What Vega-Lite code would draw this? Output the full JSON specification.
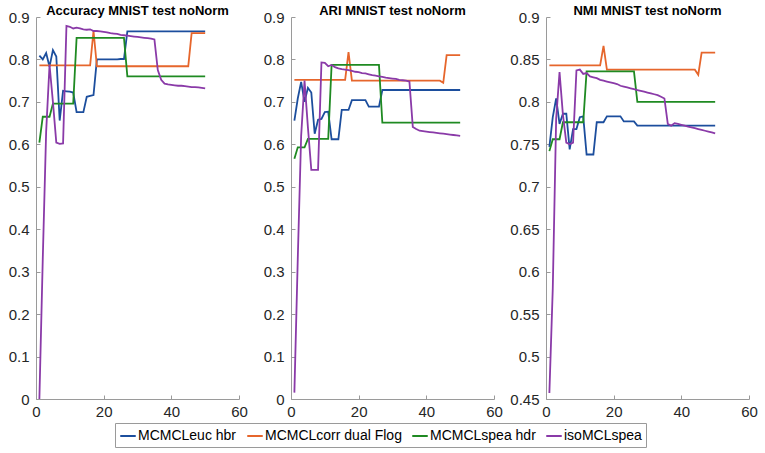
{
"$schema": "https://vega.github.io/schema/vega-lite/v6.json",
"padding": {"left": 8, "top": 5, "right": 4, "bottom": 4},
"background": "white",
"bounds": "flush",
"spacing": 52,
"config": {
  "font": "Liberation Sans",
  "view": {"stroke": null},
  "axis": {"grid": false, "domainColor": "#9a9a9a", "tickColor": "#9a9a9a", "labelColor": "#262626", "labelFontSize": 15, "labelFont": "Liberation Sans", "tickSize": -4, "labelFlush": false, "labelOverlap": false},
  "axisX": {"labelPadding": 9},
  "axisY": {"labelPadding": 11},
  "title": {"fontSize": 13, "fontWeight": "bold", "font": "Liberation Sans", "color": "#000000", "anchor": "middle", "frame": "group", "offset": -8},
  "legend": {"symbolType": "stroke", "symbolSize": 240, "symbolStrokeWidth": 2, "labelFontSize": 14, "labelFont": "Liberation Sans", "labelColor": "#000000", "strokeColor": "#9a9a9a", "fillColor": "#ffffff", "padding": 4, "columnPadding": 6, "labelOffset": 1, "title": null}
},
"datasets": {
"acc": [
{"x":1,"MCMCLeuc hbr":0.809,"MCMCLcorr dual Flog":0.786,"MCMCLspea hdr":0.604,"isoMCLspea":0.0},
{"x":2,"MCMCLeuc hbr":0.800,"MCMCLcorr dual Flog":0.786,"MCMCLspea hdr":0.665,"isoMCLspea":0.33},
{"x":3,"MCMCLeuc hbr":0.815,"MCMCLcorr dual Flog":0.786,"MCMCLspea hdr":0.665,"isoMCLspea":0.63},
{"x":4,"MCMCLeuc hbr":0.783,"MCMCLcorr dual Flog":0.786,"MCMCLspea hdr":0.665,"isoMCLspea":0.787},
{"x":5,"MCMCLeuc hbr":0.822,"MCMCLcorr dual Flog":0.786,"MCMCLspea hdr":0.696,"isoMCLspea":0.70},
{"x":6,"MCMCLeuc hbr":0.807,"MCMCLcorr dual Flog":0.786,"MCMCLspea hdr":0.696,"isoMCLspea":0.604},
{"x":7,"MCMCLeuc hbr":0.656,"MCMCLcorr dual Flog":0.786,"MCMCLspea hdr":0.696,"isoMCLspea":0.601},
{"x":8,"MCMCLeuc hbr":0.726,"MCMCLcorr dual Flog":0.786,"MCMCLspea hdr":0.696,"isoMCLspea":0.602},
{"x":9,"MCMCLeuc hbr":0.725,"MCMCLcorr dual Flog":0.786,"MCMCLspea hdr":0.696,"isoMCLspea":0.879},
{"x":10,"MCMCLeuc hbr":0.724,"MCMCLcorr dual Flog":0.786,"MCMCLspea hdr":0.696,"isoMCLspea":0.877},
{"x":11,"MCMCLeuc hbr":0.722,"MCMCLcorr dual Flog":0.786,"MCMCLspea hdr":0.696,"isoMCLspea":0.873},
{"x":12,"MCMCLeuc hbr":0.676,"MCMCLcorr dual Flog":0.786,"MCMCLspea hdr":0.851,"isoMCLspea":0.875},
{"x":13,"MCMCLeuc hbr":0.676,"MCMCLcorr dual Flog":0.786,"MCMCLspea hdr":0.851,"isoMCLspea":0.873},
{"x":14,"MCMCLeuc hbr":0.676,"MCMCLcorr dual Flog":0.786,"MCMCLspea hdr":0.851,"isoMCLspea":0.871},
{"x":15,"MCMCLeuc hbr":0.712,"MCMCLcorr dual Flog":0.786,"MCMCLspea hdr":0.851,"isoMCLspea":0.870},
{"x":16,"MCMCLeuc hbr":0.714,"MCMCLcorr dual Flog":0.786,"MCMCLspea hdr":0.851,"isoMCLspea":0.871},
{"x":17,"MCMCLeuc hbr":0.716,"MCMCLcorr dual Flog":0.867,"MCMCLspea hdr":0.851,"isoMCLspea":0.867},
{"x":18,"MCMCLeuc hbr":0.800,"MCMCLcorr dual Flog":0.784,"MCMCLspea hdr":0.851,"isoMCLspea":0.867},
{"x":19,"MCMCLeuc hbr":0.800,"MCMCLcorr dual Flog":0.784,"MCMCLspea hdr":0.851,"isoMCLspea":0.866},
{"x":20,"MCMCLeuc hbr":0.800,"MCMCLcorr dual Flog":0.784,"MCMCLspea hdr":0.851,"isoMCLspea":0.865},
{"x":21,"MCMCLeuc hbr":0.800,"MCMCLcorr dual Flog":0.784,"MCMCLspea hdr":0.851,"isoMCLspea":0.864},
{"x":22,"MCMCLeuc hbr":0.800,"MCMCLcorr dual Flog":0.784,"MCMCLspea hdr":0.851,"isoMCLspea":0.862},
{"x":23,"MCMCLeuc hbr":0.800,"MCMCLcorr dual Flog":0.784,"MCMCLspea hdr":0.851,"isoMCLspea":0.861},
{"x":24,"MCMCLeuc hbr":0.800,"MCMCLcorr dual Flog":0.784,"MCMCLspea hdr":0.851,"isoMCLspea":0.860},
{"x":25,"MCMCLeuc hbr":0.801,"MCMCLcorr dual Flog":0.784,"MCMCLspea hdr":0.851,"isoMCLspea":0.858},
{"x":26,"MCMCLeuc hbr":0.801,"MCMCLcorr dual Flog":0.784,"MCMCLspea hdr":0.851,"isoMCLspea":0.857},
{"x":27,"MCMCLeuc hbr":0.866,"MCMCLcorr dual Flog":0.784,"MCMCLspea hdr":0.760,"isoMCLspea":0.856},
{"x":28,"MCMCLeuc hbr":0.866,"MCMCLcorr dual Flog":0.784,"MCMCLspea hdr":0.760,"isoMCLspea":0.855},
{"x":29,"MCMCLeuc hbr":0.866,"MCMCLcorr dual Flog":0.784,"MCMCLspea hdr":0.760,"isoMCLspea":0.854},
{"x":30,"MCMCLeuc hbr":0.866,"MCMCLcorr dual Flog":0.784,"MCMCLspea hdr":0.760,"isoMCLspea":0.853},
{"x":31,"MCMCLeuc hbr":0.866,"MCMCLcorr dual Flog":0.784,"MCMCLspea hdr":0.760,"isoMCLspea":0.852},
{"x":32,"MCMCLeuc hbr":0.866,"MCMCLcorr dual Flog":0.784,"MCMCLspea hdr":0.760,"isoMCLspea":0.851},
{"x":33,"MCMCLeuc hbr":0.866,"MCMCLcorr dual Flog":0.784,"MCMCLspea hdr":0.760,"isoMCLspea":0.850},
{"x":34,"MCMCLeuc hbr":0.866,"MCMCLcorr dual Flog":0.784,"MCMCLspea hdr":0.760,"isoMCLspea":0.849},
{"x":35,"MCMCLeuc hbr":0.866,"MCMCLcorr dual Flog":0.784,"MCMCLspea hdr":0.760,"isoMCLspea":0.847},
{"x":36,"MCMCLeuc hbr":0.866,"MCMCLcorr dual Flog":0.784,"MCMCLspea hdr":0.760,"isoMCLspea":0.775},
{"x":37,"MCMCLeuc hbr":0.866,"MCMCLcorr dual Flog":0.784,"MCMCLspea hdr":0.760,"isoMCLspea":0.752},
{"x":38,"MCMCLeuc hbr":0.866,"MCMCLcorr dual Flog":0.784,"MCMCLspea hdr":0.760,"isoMCLspea":0.743},
{"x":39,"MCMCLeuc hbr":0.866,"MCMCLcorr dual Flog":0.784,"MCMCLspea hdr":0.760,"isoMCLspea":0.741},
{"x":40,"MCMCLeuc hbr":0.866,"MCMCLcorr dual Flog":0.784,"MCMCLspea hdr":0.760,"isoMCLspea":0.740},
{"x":41,"MCMCLeuc hbr":0.866,"MCMCLcorr dual Flog":0.784,"MCMCLspea hdr":0.760,"isoMCLspea":0.739},
{"x":42,"MCMCLeuc hbr":0.866,"MCMCLcorr dual Flog":0.784,"MCMCLspea hdr":0.760,"isoMCLspea":0.738},
{"x":43,"MCMCLeuc hbr":0.866,"MCMCLcorr dual Flog":0.784,"MCMCLspea hdr":0.760,"isoMCLspea":0.738},
{"x":44,"MCMCLeuc hbr":0.866,"MCMCLcorr dual Flog":0.784,"MCMCLspea hdr":0.760,"isoMCLspea":0.737},
{"x":45,"MCMCLeuc hbr":0.866,"MCMCLcorr dual Flog":0.784,"MCMCLspea hdr":0.760,"isoMCLspea":0.736},
{"x":46,"MCMCLeuc hbr":0.866,"MCMCLcorr dual Flog":0.862,"MCMCLspea hdr":0.760,"isoMCLspea":0.735},
{"x":47,"MCMCLeuc hbr":0.866,"MCMCLcorr dual Flog":0.862,"MCMCLspea hdr":0.760,"isoMCLspea":0.735},
{"x":48,"MCMCLeuc hbr":0.866,"MCMCLcorr dual Flog":0.862,"MCMCLspea hdr":0.760,"isoMCLspea":0.734},
{"x":49,"MCMCLeuc hbr":0.866,"MCMCLcorr dual Flog":0.862,"MCMCLspea hdr":0.760,"isoMCLspea":0.733},
{"x":50,"MCMCLeuc hbr":0.866,"MCMCLcorr dual Flog":0.862,"MCMCLspea hdr":0.760,"isoMCLspea":0.732}
],
"ari": [
{"x":1,"MCMCLeuc hbr":0.656,"MCMCLcorr dual Flog":0.752,"MCMCLspea hdr":0.566,"isoMCLspea":0.015},
{"x":2,"MCMCLeuc hbr":0.708,"MCMCLcorr dual Flog":0.752,"MCMCLspea hdr":0.593,"isoMCLspea":0.33},
{"x":3,"MCMCLeuc hbr":0.747,"MCMCLcorr dual Flog":0.752,"MCMCLspea hdr":0.593,"isoMCLspea":0.62},
{"x":4,"MCMCLeuc hbr":0.700,"MCMCLcorr dual Flog":0.752,"MCMCLspea hdr":0.593,"isoMCLspea":0.75},
{"x":5,"MCMCLeuc hbr":0.733,"MCMCLcorr dual Flog":0.752,"MCMCLspea hdr":0.613,"isoMCLspea":0.64},
{"x":6,"MCMCLeuc hbr":0.722,"MCMCLcorr dual Flog":0.752,"MCMCLspea hdr":0.613,"isoMCLspea":0.54},
{"x":7,"MCMCLeuc hbr":0.625,"MCMCLcorr dual Flog":0.752,"MCMCLspea hdr":0.613,"isoMCLspea":0.54},
{"x":8,"MCMCLeuc hbr":0.658,"MCMCLcorr dual Flog":0.752,"MCMCLspea hdr":0.613,"isoMCLspea":0.54},
{"x":9,"MCMCLeuc hbr":0.660,"MCMCLcorr dual Flog":0.752,"MCMCLspea hdr":0.613,"isoMCLspea":0.793},
{"x":10,"MCMCLeuc hbr":0.676,"MCMCLcorr dual Flog":0.752,"MCMCLspea hdr":0.613,"isoMCLspea":0.792},
{"x":11,"MCMCLeuc hbr":0.677,"MCMCLcorr dual Flog":0.752,"MCMCLspea hdr":0.613,"isoMCLspea":0.784},
{"x":12,"MCMCLeuc hbr":0.612,"MCMCLcorr dual Flog":0.752,"MCMCLspea hdr":0.787,"isoMCLspea":0.787},
{"x":13,"MCMCLeuc hbr":0.612,"MCMCLcorr dual Flog":0.752,"MCMCLspea hdr":0.787,"isoMCLspea":0.782},
{"x":14,"MCMCLeuc hbr":0.612,"MCMCLcorr dual Flog":0.752,"MCMCLspea hdr":0.787,"isoMCLspea":0.779},
{"x":15,"MCMCLeuc hbr":0.681,"MCMCLcorr dual Flog":0.752,"MCMCLspea hdr":0.787,"isoMCLspea":0.777},
{"x":16,"MCMCLeuc hbr":0.681,"MCMCLcorr dual Flog":0.752,"MCMCLspea hdr":0.787,"isoMCLspea":0.776},
{"x":17,"MCMCLeuc hbr":0.681,"MCMCLcorr dual Flog":0.817,"MCMCLspea hdr":0.787,"isoMCLspea":0.775},
{"x":18,"MCMCLeuc hbr":0.704,"MCMCLcorr dual Flog":0.750,"MCMCLspea hdr":0.787,"isoMCLspea":0.773},
{"x":19,"MCMCLeuc hbr":0.704,"MCMCLcorr dual Flog":0.750,"MCMCLspea hdr":0.787,"isoMCLspea":0.771},
{"x":20,"MCMCLeuc hbr":0.704,"MCMCLcorr dual Flog":0.750,"MCMCLspea hdr":0.787,"isoMCLspea":0.770},
{"x":21,"MCMCLeuc hbr":0.704,"MCMCLcorr dual Flog":0.750,"MCMCLspea hdr":0.787,"isoMCLspea":0.768},
{"x":22,"MCMCLeuc hbr":0.704,"MCMCLcorr dual Flog":0.750,"MCMCLspea hdr":0.787,"isoMCLspea":0.767},
{"x":23,"MCMCLeuc hbr":0.689,"MCMCLcorr dual Flog":0.750,"MCMCLspea hdr":0.787,"isoMCLspea":0.765},
{"x":24,"MCMCLeuc hbr":0.689,"MCMCLcorr dual Flog":0.750,"MCMCLspea hdr":0.787,"isoMCLspea":0.763},
{"x":25,"MCMCLeuc hbr":0.689,"MCMCLcorr dual Flog":0.750,"MCMCLspea hdr":0.787,"isoMCLspea":0.762},
{"x":26,"MCMCLeuc hbr":0.689,"MCMCLcorr dual Flog":0.750,"MCMCLspea hdr":0.787,"isoMCLspea":0.760},
{"x":27,"MCMCLeuc hbr":0.728,"MCMCLcorr dual Flog":0.750,"MCMCLspea hdr":0.651,"isoMCLspea":0.759},
{"x":28,"MCMCLeuc hbr":0.728,"MCMCLcorr dual Flog":0.750,"MCMCLspea hdr":0.651,"isoMCLspea":0.757},
{"x":29,"MCMCLeuc hbr":0.728,"MCMCLcorr dual Flog":0.750,"MCMCLspea hdr":0.651,"isoMCLspea":0.756},
{"x":30,"MCMCLeuc hbr":0.728,"MCMCLcorr dual Flog":0.750,"MCMCLspea hdr":0.651,"isoMCLspea":0.755},
{"x":31,"MCMCLeuc hbr":0.728,"MCMCLcorr dual Flog":0.750,"MCMCLspea hdr":0.651,"isoMCLspea":0.754},
{"x":32,"MCMCLeuc hbr":0.728,"MCMCLcorr dual Flog":0.750,"MCMCLspea hdr":0.651,"isoMCLspea":0.752},
{"x":33,"MCMCLeuc hbr":0.728,"MCMCLcorr dual Flog":0.750,"MCMCLspea hdr":0.651,"isoMCLspea":0.751},
{"x":34,"MCMCLeuc hbr":0.728,"MCMCLcorr dual Flog":0.750,"MCMCLspea hdr":0.651,"isoMCLspea":0.750},
{"x":35,"MCMCLeuc hbr":0.728,"MCMCLcorr dual Flog":0.750,"MCMCLspea hdr":0.651,"isoMCLspea":0.748},
{"x":36,"MCMCLeuc hbr":0.728,"MCMCLcorr dual Flog":0.750,"MCMCLspea hdr":0.651,"isoMCLspea":0.641},
{"x":37,"MCMCLeuc hbr":0.728,"MCMCLcorr dual Flog":0.750,"MCMCLspea hdr":0.651,"isoMCLspea":0.636},
{"x":38,"MCMCLeuc hbr":0.728,"MCMCLcorr dual Flog":0.750,"MCMCLspea hdr":0.651,"isoMCLspea":0.632},
{"x":39,"MCMCLeuc hbr":0.728,"MCMCLcorr dual Flog":0.750,"MCMCLspea hdr":0.651,"isoMCLspea":0.631},
{"x":40,"MCMCLeuc hbr":0.728,"MCMCLcorr dual Flog":0.750,"MCMCLspea hdr":0.651,"isoMCLspea":0.630},
{"x":41,"MCMCLeuc hbr":0.728,"MCMCLcorr dual Flog":0.750,"MCMCLspea hdr":0.651,"isoMCLspea":0.629},
{"x":42,"MCMCLeuc hbr":0.728,"MCMCLcorr dual Flog":0.750,"MCMCLspea hdr":0.651,"isoMCLspea":0.628},
{"x":43,"MCMCLeuc hbr":0.728,"MCMCLcorr dual Flog":0.750,"MCMCLspea hdr":0.651,"isoMCLspea":0.627},
{"x":44,"MCMCLeuc hbr":0.728,"MCMCLcorr dual Flog":0.750,"MCMCLspea hdr":0.651,"isoMCLspea":0.626},
{"x":45,"MCMCLeuc hbr":0.728,"MCMCLcorr dual Flog":0.745,"MCMCLspea hdr":0.651,"isoMCLspea":0.625},
{"x":46,"MCMCLeuc hbr":0.728,"MCMCLcorr dual Flog":0.810,"MCMCLspea hdr":0.651,"isoMCLspea":0.624},
{"x":47,"MCMCLeuc hbr":0.728,"MCMCLcorr dual Flog":0.810,"MCMCLspea hdr":0.651,"isoMCLspea":0.623},
{"x":48,"MCMCLeuc hbr":0.728,"MCMCLcorr dual Flog":0.810,"MCMCLspea hdr":0.651,"isoMCLspea":0.622},
{"x":49,"MCMCLeuc hbr":0.728,"MCMCLcorr dual Flog":0.810,"MCMCLspea hdr":0.651,"isoMCLspea":0.621},
{"x":50,"MCMCLeuc hbr":0.728,"MCMCLcorr dual Flog":0.810,"MCMCLspea hdr":0.651,"isoMCLspea":0.620}
],
"nmi": [
{"x":1,"MCMCLeuc hbr":0.747,"MCMCLcorr dual Flog":0.843,"MCMCLspea hdr":0.742,"isoMCLspea":0.457},
{"x":2,"MCMCLeuc hbr":0.782,"MCMCLcorr dual Flog":0.843,"MCMCLspea hdr":0.756,"isoMCLspea":0.58},
{"x":3,"MCMCLeuc hbr":0.804,"MCMCLcorr dual Flog":0.843,"MCMCLspea hdr":0.756,"isoMCLspea":0.78},
{"x":4,"MCMCLeuc hbr":0.774,"MCMCLcorr dual Flog":0.843,"MCMCLspea hdr":0.756,"isoMCLspea":0.835},
{"x":5,"MCMCLeuc hbr":0.786,"MCMCLcorr dual Flog":0.843,"MCMCLspea hdr":0.776,"isoMCLspea":0.785},
{"x":6,"MCMCLeuc hbr":0.786,"MCMCLcorr dual Flog":0.843,"MCMCLspea hdr":0.776,"isoMCLspea":0.752},
{"x":7,"MCMCLeuc hbr":0.744,"MCMCLcorr dual Flog":0.843,"MCMCLspea hdr":0.776,"isoMCLspea":0.750},
{"x":8,"MCMCLeuc hbr":0.768,"MCMCLcorr dual Flog":0.843,"MCMCLspea hdr":0.776,"isoMCLspea":0.752},
{"x":9,"MCMCLeuc hbr":0.768,"MCMCLcorr dual Flog":0.843,"MCMCLspea hdr":0.776,"isoMCLspea":0.837},
{"x":10,"MCMCLeuc hbr":0.782,"MCMCLcorr dual Flog":0.843,"MCMCLspea hdr":0.776,"isoMCLspea":0.838},
{"x":11,"MCMCLeuc hbr":0.783,"MCMCLcorr dual Flog":0.843,"MCMCLspea hdr":0.776,"isoMCLspea":0.833},
{"x":12,"MCMCLeuc hbr":0.738,"MCMCLcorr dual Flog":0.843,"MCMCLspea hdr":0.836,"isoMCLspea":0.834},
{"x":13,"MCMCLeuc hbr":0.738,"MCMCLcorr dual Flog":0.843,"MCMCLspea hdr":0.836,"isoMCLspea":0.830},
{"x":14,"MCMCLeuc hbr":0.738,"MCMCLcorr dual Flog":0.843,"MCMCLspea hdr":0.836,"isoMCLspea":0.829},
{"x":15,"MCMCLeuc hbr":0.776,"MCMCLcorr dual Flog":0.843,"MCMCLspea hdr":0.836,"isoMCLspea":0.828},
{"x":16,"MCMCLeuc hbr":0.776,"MCMCLcorr dual Flog":0.843,"MCMCLspea hdr":0.836,"isoMCLspea":0.826},
{"x":17,"MCMCLeuc hbr":0.776,"MCMCLcorr dual Flog":0.866,"MCMCLspea hdr":0.836,"isoMCLspea":0.825},
{"x":18,"MCMCLeuc hbr":0.783,"MCMCLcorr dual Flog":0.838,"MCMCLspea hdr":0.836,"isoMCLspea":0.824},
{"x":19,"MCMCLeuc hbr":0.783,"MCMCLcorr dual Flog":0.838,"MCMCLspea hdr":0.836,"isoMCLspea":0.823},
{"x":20,"MCMCLeuc hbr":0.783,"MCMCLcorr dual Flog":0.838,"MCMCLspea hdr":0.836,"isoMCLspea":0.822},
{"x":21,"MCMCLeuc hbr":0.783,"MCMCLcorr dual Flog":0.838,"MCMCLspea hdr":0.836,"isoMCLspea":0.821},
{"x":22,"MCMCLeuc hbr":0.783,"MCMCLcorr dual Flog":0.838,"MCMCLspea hdr":0.836,"isoMCLspea":0.819},
{"x":23,"MCMCLeuc hbr":0.777,"MCMCLcorr dual Flog":0.838,"MCMCLspea hdr":0.836,"isoMCLspea":0.818},
{"x":24,"MCMCLeuc hbr":0.777,"MCMCLcorr dual Flog":0.838,"MCMCLspea hdr":0.836,"isoMCLspea":0.817},
{"x":25,"MCMCLeuc hbr":0.777,"MCMCLcorr dual Flog":0.838,"MCMCLspea hdr":0.836,"isoMCLspea":0.816},
{"x":26,"MCMCLeuc hbr":0.777,"MCMCLcorr dual Flog":0.838,"MCMCLspea hdr":0.836,"isoMCLspea":0.815},
{"x":27,"MCMCLeuc hbr":0.772,"MCMCLcorr dual Flog":0.838,"MCMCLspea hdr":0.800,"isoMCLspea":0.814},
{"x":28,"MCMCLeuc hbr":0.772,"MCMCLcorr dual Flog":0.838,"MCMCLspea hdr":0.800,"isoMCLspea":0.813},
{"x":29,"MCMCLeuc hbr":0.772,"MCMCLcorr dual Flog":0.838,"MCMCLspea hdr":0.800,"isoMCLspea":0.812},
{"x":30,"MCMCLeuc hbr":0.772,"MCMCLcorr dual Flog":0.838,"MCMCLspea hdr":0.800,"isoMCLspea":0.811},
{"x":31,"MCMCLeuc hbr":0.772,"MCMCLcorr dual Flog":0.838,"MCMCLspea hdr":0.800,"isoMCLspea":0.810},
{"x":32,"MCMCLeuc hbr":0.772,"MCMCLcorr dual Flog":0.838,"MCMCLspea hdr":0.800,"isoMCLspea":0.809},
{"x":33,"MCMCLeuc hbr":0.772,"MCMCLcorr dual Flog":0.838,"MCMCLspea hdr":0.800,"isoMCLspea":0.808},
{"x":34,"MCMCLeuc hbr":0.772,"MCMCLcorr dual Flog":0.838,"MCMCLspea hdr":0.800,"isoMCLspea":0.806},
{"x":35,"MCMCLeuc hbr":0.772,"MCMCLcorr dual Flog":0.838,"MCMCLspea hdr":0.800,"isoMCLspea":0.804},
{"x":36,"MCMCLeuc hbr":0.772,"MCMCLcorr dual Flog":0.838,"MCMCLspea hdr":0.800,"isoMCLspea":0.774},
{"x":37,"MCMCLeuc hbr":0.772,"MCMCLcorr dual Flog":0.838,"MCMCLspea hdr":0.800,"isoMCLspea":0.772},
{"x":38,"MCMCLeuc hbr":0.772,"MCMCLcorr dual Flog":0.838,"MCMCLspea hdr":0.800,"isoMCLspea":0.775},
{"x":39,"MCMCLeuc hbr":0.772,"MCMCLcorr dual Flog":0.838,"MCMCLspea hdr":0.800,"isoMCLspea":0.774},
{"x":40,"MCMCLeuc hbr":0.772,"MCMCLcorr dual Flog":0.838,"MCMCLspea hdr":0.800,"isoMCLspea":0.773},
{"x":41,"MCMCLeuc hbr":0.772,"MCMCLcorr dual Flog":0.838,"MCMCLspea hdr":0.800,"isoMCLspea":0.772},
{"x":42,"MCMCLeuc hbr":0.772,"MCMCLcorr dual Flog":0.838,"MCMCLspea hdr":0.800,"isoMCLspea":0.771},
{"x":43,"MCMCLeuc hbr":0.772,"MCMCLcorr dual Flog":0.838,"MCMCLspea hdr":0.800,"isoMCLspea":0.770},
{"x":44,"MCMCLeuc hbr":0.772,"MCMCLcorr dual Flog":0.838,"MCMCLspea hdr":0.800,"isoMCLspea":0.769},
{"x":45,"MCMCLeuc hbr":0.772,"MCMCLcorr dual Flog":0.832,"MCMCLspea hdr":0.800,"isoMCLspea":0.768},
{"x":46,"MCMCLeuc hbr":0.772,"MCMCLcorr dual Flog":0.858,"MCMCLspea hdr":0.800,"isoMCLspea":0.767},
{"x":47,"MCMCLeuc hbr":0.772,"MCMCLcorr dual Flog":0.858,"MCMCLspea hdr":0.800,"isoMCLspea":0.766},
{"x":48,"MCMCLeuc hbr":0.772,"MCMCLcorr dual Flog":0.858,"MCMCLspea hdr":0.800,"isoMCLspea":0.765},
{"x":49,"MCMCLeuc hbr":0.772,"MCMCLcorr dual Flog":0.858,"MCMCLspea hdr":0.800,"isoMCLspea":0.764},
{"x":50,"MCMCLeuc hbr":0.772,"MCMCLcorr dual Flog":0.858,"MCMCLspea hdr":0.800,"isoMCLspea":0.763}
]
},
"hconcat": [
{
 "title": "Accuracy MNIST test noNorm",
 "width": 203, "height": 382,
 "data": {"name": "acc"},
 "transform": [{"fold": ["MCMCLeuc hbr", "MCMCLcorr dual Flog", "MCMCLspea hdr", "isoMCLspea"], "as": ["series", "value"]}],
 "mark": {"type": "line", "strokeWidth": 1.8},
 "encoding": {
  "x": {"field": "x", "type": "quantitative", "scale": {"domain": [0, 60], "nice": false}, "axis": {"values": [0, 20, 40, 60], "title": null}},
  "y": {"field": "value", "type": "quantitative", "scale": {"domain": [0, 0.9], "nice": false, "zero": false}, "axis": {"values": [0, 0.1, 0.2, 0.3, 0.4, 0.5, 0.6, 0.7, 0.8, 0.9], "format": "~g", "title": null}},
  "color": {"field": "series", "type": "nominal", "scale": {"domain": ["MCMCLeuc hbr", "MCMCLcorr dual Flog", "MCMCLspea hdr", "isoMCLspea"], "range": ["#1c4e9d", "#e6662c", "#1f8a22", "#8a3aa8"]}, "legend": {"orient": "none", "direction": "horizontal", "columns": 4, "legendX": 79, "legendY": 406, "title": null}}
 }
},
{
 "title": "ARI MNIST test noNorm",
 "width": 203, "height": 382,
 "data": {"name": "ari"},
 "transform": [{"fold": ["MCMCLeuc hbr", "MCMCLcorr dual Flog", "MCMCLspea hdr", "isoMCLspea"], "as": ["series", "value"]}],
 "mark": {"type": "line", "strokeWidth": 1.8},
 "encoding": {
  "x": {"field": "x", "type": "quantitative", "scale": {"domain": [0, 60], "nice": false}, "axis": {"values": [0, 20, 40, 60], "title": null}},
  "y": {"field": "value", "type": "quantitative", "scale": {"domain": [0, 0.9], "nice": false, "zero": false}, "axis": {"values": [0, 0.1, 0.2, 0.3, 0.4, 0.5, 0.6, 0.7, 0.8, 0.9], "format": "~g", "title": null}},
  "color": {"field": "series", "type": "nominal", "scale": {"domain": ["MCMCLeuc hbr", "MCMCLcorr dual Flog", "MCMCLspea hdr", "isoMCLspea"], "range": ["#1c4e9d", "#e6662c", "#1f8a22", "#8a3aa8"]}, "legend": {"orient": "none", "direction": "horizontal", "columns": 4, "legendX": 79, "legendY": 406, "title": null}}
 }
},
{
 "title": "NMI MNIST test noNorm",
 "width": 203, "height": 382,
 "data": {"name": "nmi"},
 "transform": [{"fold": ["MCMCLeuc hbr", "MCMCLcorr dual Flog", "MCMCLspea hdr", "isoMCLspea"], "as": ["series", "value"]}],
 "mark": {"type": "line", "strokeWidth": 1.8},
 "encoding": {
  "x": {"field": "x", "type": "quantitative", "scale": {"domain": [0, 60], "nice": false}, "axis": {"values": [0, 20, 40, 60], "title": null}},
  "y": {"field": "value", "type": "quantitative", "scale": {"domain": [0.45, 0.9], "nice": false, "zero": false}, "axis": {"values": [0.45, 0.5, 0.55, 0.6, 0.65, 0.7, 0.75, 0.8, 0.85, 0.9], "format": "~g", "title": null}},
  "color": {"field": "series", "type": "nominal", "scale": {"domain": ["MCMCLeuc hbr", "MCMCLcorr dual Flog", "MCMCLspea hdr", "isoMCLspea"], "range": ["#1c4e9d", "#e6662c", "#1f8a22", "#8a3aa8"]}, "legend": {"orient": "none", "direction": "horizontal", "columns": 4, "legendX": 79, "legendY": 406, "title": null}}
 }
}
]
}
